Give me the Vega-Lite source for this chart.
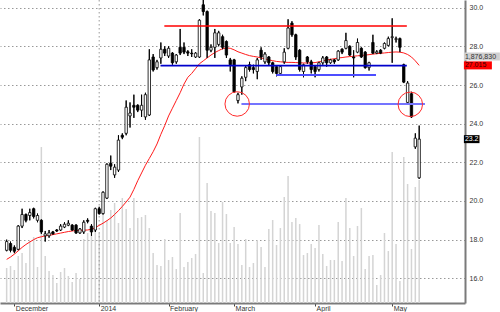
{
"$schema": "https://vega.github.io/schema/vega-lite/v6.json",
"width": 465, "height": 303,
"autosize": {"type": "none"},
"padding": {"left": 0, "top": 0, "right": 35, "bottom": 9},
"background": "white",
"config": {"view": {"stroke": null}, "font": "Liberation Sans"},
"datasets": {
"bars": [
{"i":0,"o":17.45,"h":18.0,"l":17.4,"c":17.9,"v":534000,"ma":16.98},
{"i":1,"o":17.8,"h":17.9,"l":17.35,"c":17.45,"v":565000,"ma":17.1},
{"i":2,"o":17.6,"h":17.7,"l":17.3,"c":17.4,"v":504000,"ma":17.25},
{"i":3,"o":17.5,"h":18.75,"l":17.45,"c":18.7,"v":717000,"ma":17.42},
{"i":4,"o":18.7,"h":19.6,"l":18.6,"c":19.3,"v":763000,"ma":17.6},
{"i":5,"o":19.3,"h":19.35,"l":18.9,"c":19.0,"v":610000,"ma":17.75},
{"i":6,"o":19.25,"h":19.6,"l":19.0,"c":19.4,"v":946000,"ma":17.88},
{"i":7,"o":19.6,"h":19.65,"l":19.1,"c":19.2,"v":1007000,"ma":18.0},
{"i":8,"o":19.0,"h":19.35,"l":18.9,"c":19.25,"v":549000,"ma":18.1},
{"i":9,"o":19.0,"h":19.05,"l":18.3,"c":18.4,"v":2380000,"ma":18.15},
{"i":10,"o":18.2,"h":18.45,"l":17.9,"c":18.3,"v":717000,"ma":18.2},
{"i":11,"o":18.2,"h":18.5,"l":18.1,"c":18.35,"v":488000,"ma":18.22},
{"i":12,"o":18.4,"h":18.45,"l":18.25,"c":18.3,"v":427000,"ma":18.26},
{"i":13,"o":18.5,"h":18.55,"l":18.4,"c":18.45,"v":305000,"ma":18.3},
{"i":14,"o":18.5,"h":18.8,"l":18.45,"c":18.7,"v":473000,"ma":18.34},
{"i":15,"o":18.65,"h":18.9,"l":18.6,"c":18.8,"v":534000,"ma":18.38},
{"i":16,"o":18.75,"h":19.0,"l":18.7,"c":18.85,"v":412000,"ma":18.42},
{"i":17,"o":18.75,"h":18.8,"l":18.45,"c":18.5,"v":320000,"ma":18.45},
{"i":18,"o":18.75,"h":18.8,"l":18.3,"c":18.35,"v":458000,"ma":18.47},
{"i":19,"o":18.35,"h":18.6,"l":18.3,"c":18.55,"v":366000,"ma":18.48},
{"i":20,"o":18.4,"h":19.0,"l":18.3,"c":18.9,"v":977000,"ma":18.49},
{"i":21,"o":19.0,"h":19.1,"l":18.85,"c":18.95,"v":1068000,"ma":18.5},
{"i":22,"o":18.7,"h":18.8,"l":18.2,"c":18.4,"v":1144000,"ma":18.54},
{"i":23,"o":18.5,"h":19.65,"l":18.4,"c":19.6,"v":1297000,"ma":18.62},
{"i":24,"o":19.6,"h":19.7,"l":19.3,"c":19.35,"v":1068000,"ma":18.74},
{"i":25,"o":19.35,"h":20.5,"l":19.3,"c":20.45,"v":1358000,"ma":18.85},
{"i":26,"o":20.15,"h":21.95,"l":20.1,"c":21.9,"v":1266000,"ma":18.98},
{"i":27,"o":21.95,"h":22.35,"l":21.6,"c":21.8,"v":1419000,"ma":19.12},
{"i":28,"o":21.35,"h":21.9,"l":21.2,"c":21.75,"v":1526000,"ma":19.3},
{"i":29,"o":21.6,"h":23.4,"l":21.5,"c":23.15,"v":1221000,"ma":19.5},
{"i":30,"o":23.4,"h":23.5,"l":23.2,"c":23.3,"v":1602000,"ma":19.72},
{"i":31,"o":23.5,"h":25.2,"l":23.4,"c":24.85,"v":1434000,"ma":19.95},
{"i":32,"o":24.4,"h":25.1,"l":23.8,"c":24.55,"v":1144000,"ma":20.2},
{"i":33,"o":24.95,"h":25.5,"l":24.3,"c":24.85,"v":1602000,"ma":20.6},
{"i":34,"o":24.95,"h":25.0,"l":24.6,"c":24.7,"v":1297000,"ma":21.05},
{"i":35,"o":24.7,"h":25.5,"l":24.35,"c":24.95,"v":1312000,"ma":21.45},
{"i":36,"o":24.35,"h":25.6,"l":24.2,"c":25.5,"v":1343000,"ma":21.85},
{"i":37,"o":24.45,"h":27.85,"l":24.4,"c":27.3,"v":1144000,"ma":22.2},
{"i":38,"o":27.45,"h":27.6,"l":26.7,"c":26.78,"v":763000,"ma":22.55},
{"i":39,"o":26.9,"h":27.3,"l":26.8,"c":27.2,"v":580000,"ma":22.95},
{"i":40,"o":27.4,"h":28.2,"l":27.1,"c":27.85,"v":565000,"ma":23.45},
{"i":41,"o":27.85,"h":28.0,"l":27.5,"c":27.65,"v":977000,"ma":23.9},
{"i":42,"o":27.5,"h":28.0,"l":27.4,"c":27.9,"v":656000,"ma":24.4},
{"i":43,"o":27.65,"h":27.7,"l":27.05,"c":27.15,"v":702000,"ma":24.8},
{"i":44,"o":27.2,"h":27.6,"l":27.1,"c":27.55,"v":519000,"ma":25.2},
{"i":45,"o":27.95,"h":28.9,"l":27.55,"c":27.65,"v":1373000,"ma":25.6},
{"i":46,"o":27.95,"h":28.2,"l":27.6,"c":27.7,"v":549000,"ma":26.05},
{"i":47,"o":27.72,"h":27.8,"l":27.5,"c":27.65,"v":626000,"ma":26.4},
{"i":48,"o":27.65,"h":27.85,"l":27.45,"c":27.62,"v":687000,"ma":26.6},
{"i":49,"o":27.45,"h":27.7,"l":27.4,"c":27.65,"v":748000,"ma":26.85},
{"i":50,"o":27.45,"h":29.4,"l":27.4,"c":29.35,"v":2533000,"ma":27.1},
{"i":51,"o":30.15,"h":30.4,"l":29.6,"c":29.8,"v":458000,"ma":27.25},
{"i":52,"o":29.8,"h":29.85,"l":27.4,"c":27.8,"v":1831000,"ma":27.4},
{"i":53,"o":27.8,"h":28.1,"l":27.7,"c":27.95,"v":1404000,"ma":27.55},
{"i":54,"o":27.95,"h":28.9,"l":27.4,"c":28.7,"v":1373000,"ma":27.68},
{"i":55,"o":28.1,"h":28.8,"l":28.0,"c":28.7,"v":916000,"ma":27.78},
{"i":56,"o":28.5,"h":28.6,"l":27.85,"c":27.95,"v":1541000,"ma":27.88},
{"i":57,"o":28.25,"h":28.3,"l":27.4,"c":27.55,"v":1358000,"ma":27.92},
{"i":58,"o":27.3,"h":27.4,"l":26.7,"c":27.05,"v":916000,"ma":27.9},
{"i":59,"o":27.3,"h":27.35,"l":25.6,"c":25.65,"v":1160000,"ma":27.82},
{"i":60,"o":25.2,"h":25.6,"l":25.05,"c":25.5,"v":900000,"ma":27.72},
{"i":61,"o":25.9,"h":26.45,"l":25.5,"c":26.35,"v":580000,"ma":27.65},
{"i":62,"o":26.4,"h":27.0,"l":26.2,"c":26.9,"v":977000,"ma":27.58},
{"i":63,"o":27.05,"h":27.2,"l":26.7,"c":26.8,"v":549000,"ma":27.52},
{"i":64,"o":26.9,"h":27.05,"l":26.6,"c":26.8,"v":610000,"ma":27.48},
{"i":65,"o":26.7,"h":27.4,"l":26.3,"c":27.3,"v":961000,"ma":27.45},
{"i":66,"o":27.8,"h":27.95,"l":27.3,"c":27.45,"v":855000,"ma":27.4},
{"i":67,"o":27.2,"h":27.7,"l":27.1,"c":27.6,"v":549000,"ma":27.35},
{"i":68,"o":27.45,"h":27.5,"l":27.0,"c":27.15,"v":1129000,"ma":27.3},
{"i":69,"o":27.15,"h":27.2,"l":26.6,"c":26.7,"v":1266000,"ma":27.26},
{"i":70,"o":26.95,"h":27.0,"l":26.45,"c":26.6,"v":885000,"ma":27.22},
{"i":71,"o":26.6,"h":27.0,"l":26.5,"c":26.95,"v":1144000,"ma":27.2},
{"i":72,"o":27.2,"h":27.9,"l":27.1,"c":27.7,"v":1617000,"ma":27.18},
{"i":73,"o":27.9,"h":29.4,"l":27.85,"c":28.95,"v":1938000,"ma":27.17},
{"i":74,"o":29.2,"h":29.3,"l":28.5,"c":28.6,"v":1236000,"ma":27.17},
{"i":75,"o":28.6,"h":28.65,"l":27.3,"c":27.45,"v":1297000,"ma":27.16},
{"i":76,"o":27.8,"h":27.85,"l":26.7,"c":26.8,"v":1205000,"ma":27.15},
{"i":77,"o":26.7,"h":27.1,"l":26.4,"c":27.05,"v":732000,"ma":27.14},
{"i":78,"o":27.45,"h":27.5,"l":27.1,"c":27.2,"v":763000,"ma":27.14},
{"i":79,"o":27.2,"h":27.3,"l":26.6,"c":26.8,"v":900000,"ma":27.15},
{"i":80,"o":26.95,"h":27.0,"l":26.4,"c":26.7,"v":839000,"ma":27.16},
{"i":81,"o":26.8,"h":27.2,"l":26.7,"c":27.15,"v":1190000,"ma":27.2},
{"i":82,"o":27.15,"h":27.5,"l":27.05,"c":27.4,"v":748000,"ma":27.25},
{"i":83,"o":27.45,"h":27.5,"l":26.95,"c":27.15,"v":565000,"ma":27.3},
{"i":84,"o":27.15,"h":27.35,"l":27.1,"c":27.3,"v":656000,"ma":27.33},
{"i":85,"o":27.3,"h":27.35,"l":27.1,"c":27.2,"v":656000,"ma":27.36},
{"i":86,"o":27.3,"h":27.8,"l":27.25,"c":27.75,"v":1236000,"ma":27.4},
{"i":87,"o":27.85,"h":27.9,"l":27.6,"c":27.7,"v":641000,"ma":27.42},
{"i":88,"o":27.9,"h":28.7,"l":27.85,"c":28.3,"v":1602000,"ma":27.45},
{"i":89,"o":28.0,"h":28.05,"l":27.5,"c":27.55,"v":1144000,"ma":27.47},
{"i":90,"o":27.45,"h":27.8,"l":26.4,"c":27.4,"v":717000,"ma":27.49},
{"i":91,"o":27.7,"h":28.4,"l":27.65,"c":28.2,"v":1175000,"ma":27.51},
{"i":92,"o":27.9,"h":27.95,"l":27.4,"c":27.45,"v":1450000,"ma":27.53},
{"i":93,"o":27.7,"h":27.75,"l":26.85,"c":26.9,"v":519000,"ma":27.55},
{"i":94,"o":26.9,"h":27.2,"l":26.75,"c":27.15,"v":717000,"ma":27.57},
{"i":95,"o":28.2,"h":28.6,"l":27.6,"c":27.65,"v":732000,"ma":27.6},
{"i":96,"o":27.65,"h":27.8,"l":27.6,"c":27.72,"v":275000,"ma":27.62},
{"i":97,"o":27.8,"h":27.85,"l":27.6,"c":27.65,"v":427000,"ma":27.64},
{"i":98,"o":27.9,"h":28.2,"l":27.85,"c":28.15,"v":1068000,"ma":27.66},
{"i":99,"o":28.05,"h":28.5,"l":28.0,"c":28.4,"v":793000,"ma":27.68},
{"i":100,"o":28.45,"h":29.45,"l":27.15,"c":28.5,"v":2304000,"ma":27.7},
{"i":101,"o":28.35,"h":28.5,"l":28.2,"c":28.4,"v":900000,"ma":27.71},
{"i":102,"o":28.4,"h":28.45,"l":27.7,"c":27.95,"v":336000,"ma":27.7},
{"i":103,"o":27.05,"h":27.1,"l":26.1,"c":26.15,"v":2228000,"ma":27.66},
{"i":104,"o":25.1,"h":26.2,"l":25.0,"c":26.1,"v":1816000,"ma":27.58},
{"i":105,"o":25.55,"h":25.65,"l":24.3,"c":24.35,"v":824000,"ma":27.45},
{"i":106,"o":22.8,"h":23.5,"l":22.7,"c":23.25,"v":1770000,"ma":27.25},
{"i":107,"o":21.2,"h":23.9,"l":21.15,"c":23.2,"v":1876830,"ma":27.015}
],
"hlines": [
{"kind":"res","x1":40.9,"x2":103.8,"y":29.05},
{"kind":"sup1","x1":39.9,"x2":103.8,"y":27.0},
{"kind":"sup2","x1":69.9,"x2":95.8,"y":26.52},
{"kind":"sup3","x1":60.9,"x2":108.5,"y":25.02}
],
"circles": [
{"cx":59.8,"cy":25.02},
{"cx":104.7,"cy":25.0}
],
"vlines": [{"i":24}],
"tags": [
{"kind":"vol","label":"1,876,830","y":27.475},
{"kind":"ma","label":"27.015","y":27.015},
{"kind":"last","label":"23.2","y":23.2}
]
},
"layer": [
{
"data": {"name": "bars"},
"mark": {"type": "bar", "orient": "vertical", "width": 1.5, "color": "#d4d4d4"},
"encoding": {
"x": {"field": "i", "type": "quantitative", "title": null, "scale": {"domain": [-0.43, 117.59], "nice": false, "zero": false},
"axis": {"values": [2, 24, 42, 59, 80, 100], "labelExpr": "datum.value==2?'December':datum.value==24?'2014':datum.value==42?'February':datum.value==59?'March':datum.value==80?'April':'May'", "grid": false, "title": null, "ticks": true, "tickSize": 3, "tickColor": "#444", "domain": true, "domainColor": "#7a7a7a", "domainWidth": 2, "labels": true, "labelFontSize": 7, "labelColor": "#333", "labelAlign": "left", "labelBaseline": "top", "labelPadding": -2, "labelOffset": 1, "labelFlush": false, "labelOverlap": false}},
"y": {"field": "v", "type": "quantitative", "title": null, "scale": {"domain": [0, 4623477], "nice": false, "zero": true}, "axis": null}
}
},
{
"layer": [
{
"data": {"name": "bars"},
"mark": {"type": "rule", "color": "black", "strokeWidth": 1},
"encoding": {
"x": {"field": "i", "type": "quantitative", "title": null},
"y": {"field": "l", "type": "quantitative", "title": null, "scale": {"domain": [14.723, 30.398], "nice": false, "zero": false},
"axis": {"orient": "right", "values": [16, 18, 20, 22, 24, 26, 28, 30], "format": ".1f", "title": null, "ticks": false, "tickSize": 0, "labels": true, "labelPadding": 4, "labelFontSize": 7, "labelColor": "#333", "domain": true, "domainColor": "#7a7a7a", "domainWidth": 2, "grid": true, "gridDash": [1.5, 2.5], "gridColor": "#999"}},
"y2": {"field": "h"}
}
},
{
"data": {"name": "vlines"},
"mark": {"type": "rule", "color": "#999", "strokeDash": [1.5, 2.5], "strokeWidth": 1},
"encoding": {"x": {"field": "i", "type": "quantitative", "title": null}}
},
{
"data": {"name": "bars"},
"mark": {"type": "line", "color": "#ff1a1a", "strokeWidth": 1},
"encoding": {
"x": {"field": "i", "type": "quantitative", "title": null},
"y": {"field": "ma", "type": "quantitative", "title": null}
}
},
{
"data": {"name": "bars"},
"mark": {"type": "rule", "color": "black", "strokeWidth": 1},
"encoding": {
"x": {"field": "i", "type": "quantitative", "title": null},
"y": {"field": "l", "type": "quantitative", "title": null},
"y2": {"field": "h"}
}
},
{
"data": {"name": "bars"},
"mark": {"type": "bar", "width": 2.4, "stroke": "black", "strokeWidth": 0.8},
"encoding": {
"x": {"field": "i", "type": "quantitative", "title": null},
"y": {"field": "o", "type": "quantitative", "title": null},
"y2": {"field": "c"},
"fill": {"condition": {"test": "datum.c >= datum.o", "value": "white"}, "value": "black"}
}
},
{
"data": {"name": "hlines"},
"mark": {"type": "rule"},
"encoding": {
"x": {"field": "x1", "type": "quantitative", "title": null},
"x2": {"field": "x2"},
"y": {"field": "y", "type": "quantitative", "title": null},
"color": {"field": "kind", "type": "nominal", "scale": {"domain": ["res", "sup1", "sup2", "sup3"], "range": ["#ff0000", "#0000cc", "#4d4dff", "#7474ff"]}, "legend": null},
"strokeWidth": {"field": "kind", "type": "nominal", "scale": {"domain": ["res", "sup1", "sup2", "sup3"], "range": [1.5, 2, 1.5, 2.2]}, "legend": null}
}
},
{
"data": {"name": "circles"},
"mark": {"type": "point", "shape": "circle", "filled": false, "size": 600, "stroke": "#ff2a2a", "strokeWidth": 1, "opacity": 1},
"encoding": {
"x": {"field": "cx", "type": "quantitative", "title": null},
"y": {"field": "cy", "type": "quantitative", "title": null}
}
},
{
"data": {"name": "tags"},
"mark": {"type": "point", "filled": true, "size": 64, "opacity": 1, "strokeWidth": 0},
"encoding": {
"x": {"datum": 118.6, "type": "quantitative", "title": null},
"y": {"field": "y", "type": "quantitative", "title": null},
"shape": {"condition": [{"test": "datum.kind=='vol'", "value": "M0,-1H9V1H0Z"}, {"test": "datum.kind=='ma'", "value": "M0,-1H7V1H0Z"}], "value": "M0,-1H3.9V1H0Z"},
"fill": {"condition": [{"test": "datum.kind=='vol'", "value": "#d0d0d0"}, {"test": "datum.kind=='ma'", "value": "#ff0000"}], "value": "#000000"}
}
},
{
"data": {"name": "tags"},
"mark": {"type": "text", "align": "left", "baseline": "middle", "dx": 1, "fontSize": 7},
"encoding": {
"x": {"datum": 118.6, "type": "quantitative", "title": null},
"y": {"field": "y", "type": "quantitative", "title": null},
"text": {"field": "label"},
"color": {"condition": [{"test": "datum.kind=='vol'", "value": "#333333"}, {"test": "datum.kind=='ma'", "value": "#330000"}], "value": "#ffffff"}
}
}
]
}
],
"resolve": {"scale": {"y": "independent"}}
}
